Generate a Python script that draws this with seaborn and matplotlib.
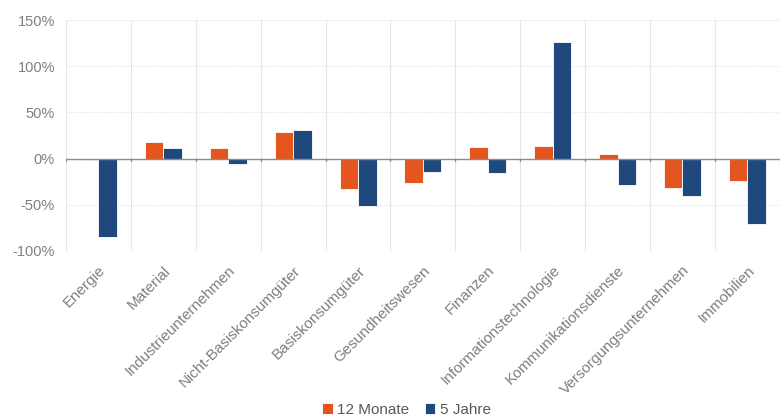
import numpy as np
import matplotlib
matplotlib.use("Agg")
import matplotlib.pyplot as plt
from matplotlib.ticker import FuncFormatter, FixedLocator
import pandas as pd
import seaborn as sns

# data (percent)
sectors = ["Energie", "Material", "Industrieunternehmen", "Nicht-Basiskonsumgüter",
           "Basiskonsumgüter", "Gesundheitswesen", "Finanzen", "Informationstechnologie",
           "Kommunikationsdienste", "Versorgungsunternehmen", "Immobilien"]
months_12 = [-2, 18, 11, 28.5, -33, -27, 12, 14, 5, -31.5, -24]
years_5 = [-85, 11, -6, 30.5, -52, -15, -15.5, 126.5, -28.5, -41, -71.5]
series = ["12 Monate", "5 Jahre"]
colours = ["#E5561F", "#1F497D"]

df = pd.DataFrame({
    "sector": sectors * 2,
    "value": months_12 + years_5,
    "series": [series[0]] * len(sectors) + [series[1]] * len(sectors),
})

sns.set_theme(style="white")
plt.rcParams["font.family"] = ["Liberation Sans", "DejaVu Sans"]

txt = "#7F7F7F"
fig = plt.figure(figsize=(7.81, 4.18), dpi=100)
ax = fig.add_axes([0.0845, 0.4, 0.914, 0.552])

sns.barplot(data=df, x="sector", y="value", hue="series", order=sectors,
            hue_order=series, palette=colours, width=0.57, saturation=1,
            edgecolor="white", linewidth=0.6, ax=ax, zorder=3)

ax.set_ylim(-100, 150)
ax.set_xlim(-0.5, len(sectors) - 0.5)
ax.set_yticks([-100, -50, 0, 50, 100, 150])
ax.yaxis.set_major_formatter(FuncFormatter(lambda v, p: f"{v:.0f}%"))
ax.tick_params(axis="y", length=0, labelsize=10.5, labelcolor=txt, pad=8)

# category boundaries as vertical grid lines
ax.xaxis.set_minor_locator(FixedLocator(np.arange(-0.5, len(sectors) + 0.5, 1)))
ax.tick_params(axis="x", which="major", length=0, labelsize=11, labelcolor=txt, pad=9)
ax.tick_params(axis="x", which="minor", length=0)
ax.grid(axis="x", which="minor", color="#E6E6E6", linewidth=0.8, zorder=0)
ax.grid(axis="y", which="major", color="#E6E6E6", linewidth=0.8, linestyle=(0, (1, 1)), zorder=0)
plt.setp(ax.get_xticklabels(), rotation=45, ha="right", rotation_mode="anchor")

# zero line with little ticks at the boundaries
ax.axhline(0, color="#8C8C8C", linewidth=1, zorder=4)
for b in np.arange(-0.5, len(sectors) + 0.5, 1):
    ax.plot([b, b], [0, -2.5], color="#8C8C8C", linewidth=1, zorder=4)

for s in ax.spines.values():
    s.set_visible(False)
ax.set_xlabel("")
ax.set_ylabel("")

ax.legend(loc="lower center", bbox_to_anchor=(0.477, -0.78), ncol=2, frameon=False,
          handlelength=0.7, handleheight=0.7, handletextpad=0.3, columnspacing=1.0,
          fontsize=11, labelcolor="#595959")

fig.savefig("out.png", dpi=100)
